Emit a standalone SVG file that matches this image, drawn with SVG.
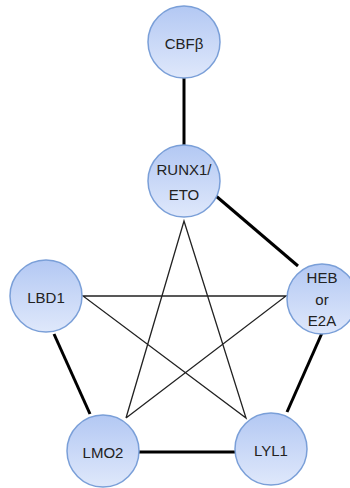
<svg xmlns="http://www.w3.org/2000/svg" width="350" height="488" viewBox="0 0 350 488">
<defs>
<linearGradient id="g" x1="0" y1="0" x2="0" y2="1">
<stop offset="0" stop-color="#b3c8f3"/>
<stop offset="1" stop-color="#dfe8fb"/>
</linearGradient>
<style>
.n{fill:url(#g);stroke:#7a9fd8;stroke-width:1.5}
.t{font-family:"Liberation Sans",Arial,sans-serif;font-size:15px;fill:#222;text-anchor:middle;dominant-baseline:central}
.thick{stroke:#000;stroke-width:3;fill:none}
.thin{stroke:#222;stroke-width:1.3;fill:none}
</style>
</defs>
<rect width="350" height="488" fill="#fff"/>
<g id="connectors">
<line class="thick" x1="184" y1="78" x2="184" y2="145"/>
<line class="thick" x1="216" y1="196" x2="298" y2="266"/>
<line class="thick" x1="322" y1="333" x2="287" y2="412"/>
<line class="thick" x1="139" y1="452" x2="235" y2="452"/>
<line class="thick" x1="54" y1="334" x2="90" y2="414"/>
<polyline class="thin" points="126,418 184,221 246,418 83,296 286,296 126,418"/>
</g>
<g id="CBF"><circle class="n" cx="184" cy="42" r="36"/><text class="t" x="184" y="43">CBFβ</text></g>
<g id="RUNX1"><circle class="n" cx="184" cy="181" r="36"/><text class="t" x="184" y="169">RUNX1/</text><text class="t" x="184" y="194">ETO</text></g>
<g id="LBD1"><circle class="n" cx="46" cy="296" r="36"/><text class="t" x="46" y="297">LBD1</text></g>
<g id="HEB"><circle class="n" cx="322" cy="299" r="35"/><text class="t" x="322" y="277">HEB</text><text class="t" x="322" y="299">or</text><text class="t" x="322" y="320">E2A</text></g>
<g id="LMO2"><circle class="n" cx="103" cy="451" r="36"/><text class="t" x="103" y="452">LMO2</text></g>
<g id="LYL1"><circle class="n" cx="271" cy="449" r="36"/><text class="t" x="271" y="450">LYL1</text></g>
</svg>
